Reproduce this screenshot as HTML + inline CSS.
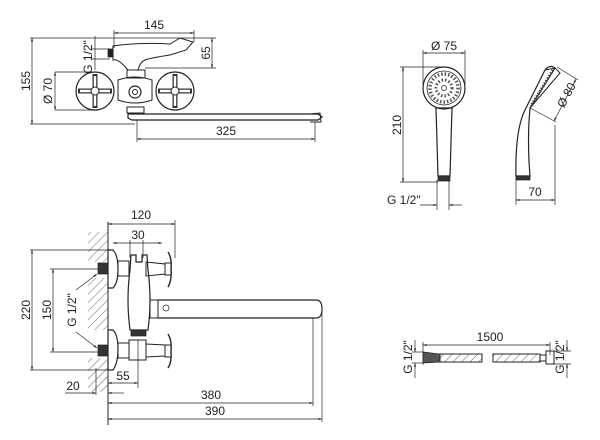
<!DOCTYPE html>
<html><head><meta charset="utf-8"><style>
html,body{margin:0;padding:0;background:#fff}
svg{display:block}
text{font-family:"Liberation Sans",sans-serif;font-size:12px;fill:#222}
</style></head><body>
<svg width="600" height="440" viewBox="0 0 600 440" xmlns="http://www.w3.org/2000/svg">
<defs>
<marker id="a" viewBox="0 0 10 10" refX="10" refY="5" markerWidth="7" markerHeight="5" orient="auto-start-reverse"><path d="M0,2 L10,5 L0,8 z" fill="#222"/></marker>
<pattern id="h" width="6" height="6" patternUnits="userSpaceOnUse" patternTransform="rotate(45)"><line x1="0" y1="0" x2="0" y2="6" stroke="#444" stroke-width="0.8"/></pattern>
</defs>
<g stroke="#222" stroke-width="0.7" fill="none">
<!-- TOP LEFT -->
<line x1="114" y1="33" x2="194" y2="33" marker-start="url(#a)" marker-end="url(#a)"/>
<line x1="114" y1="30" x2="114" y2="48"/><line x1="194" y1="30" x2="194" y2="42"/>
<line x1="30" y1="38" x2="216" y2="38"/>
<line x1="145" y1="68" x2="216" y2="68"/>
<line x1="212" y1="38" x2="212" y2="68" marker-start="url(#a)" marker-end="url(#a)"/>
<line x1="32" y1="38" x2="32" y2="124" marker-start="url(#a)" marker-end="url(#a)"/>
<line x1="30" y1="124" x2="135" y2="124"/>
<line x1="95" y1="36" x2="95" y2="70"/>
<line x1="92" y1="49" x2="110" y2="49"/><line x1="92" y1="59" x2="110" y2="59"/>
<line x1="55" y1="72" x2="55" y2="110" marker-start="url(#a)" marker-end="url(#a)"/>
<line x1="55" y1="72" x2="92" y2="72"/><line x1="55" y1="110" x2="92" y2="110"/>
<line x1="137" y1="120" x2="137" y2="142"/><line x1="315" y1="122" x2="315" y2="142"/>
<line x1="137" y1="139" x2="315" y2="139" marker-start="url(#a)" marker-end="url(#a)"/>
<path d="M113,46 Q140,42 170,44 L180,38 L193,42 L186,50 L170,55 Q150,58 145,60 Q140,62 138,70 L128,70 Q118,58 113,60 Z" stroke-width="1"/>
<rect x="108" y="49" width="5" height="8" fill="#222"/>
<path d="M127,70 L145,70 L145,78 L127,78 Z" stroke-width="1"/>
<path d="M118,80 Q135,74 152,80 L152,100 Q135,106 118,100 Z" stroke-width="1"/>
<circle cx="95" cy="91" r="19" stroke-width="1.2"/>
<circle cx="175" cy="91" r="19" stroke-width="1.2"/>
<path d="M95,91 L95,74 M95,91 L95,108 M95,91 L78,91 M95,91 L112,91" stroke-width="5" stroke="#333"/>
<path d="M95,91 L95,76 M95,91 L95,106 M95,91 L80,91 M95,91 L110,91" stroke-width="2.4" stroke="#fff"/>
<path d="M175,91 L175,74 M175,91 L175,108 M175,91 L158,91 M175,91 L192,91" stroke-width="5" stroke="#333"/>
<path d="M175,91 L175,76 M175,91 L175,106 M175,91 L160,91 M175,91 L190,91" stroke-width="2.4" stroke="#fff"/>
<circle cx="95" cy="91" r="4" fill="#fff" stroke-width="1"/>
<circle cx="175" cy="91" r="4" fill="#fff" stroke-width="1"/>
<circle cx="135" cy="92" r="6" stroke-width="1.2"/>
<circle cx="135" cy="92" r="2.5" stroke-width="1"/>
<rect x="127" y="107" width="17" height="6" stroke-width="1"/>
<path d="M128,114 L318,114 L322,117 L318,120 L132,120 L128,118 Z" stroke-width="1.2"/>
<path d="M310,114 L320,113 L321,122 L310,122" stroke-width="1"/>
<!-- TOP RIGHT -->
<line x1="423" y1="53" x2="465" y2="53" marker-start="url(#a)" marker-end="url(#a)"/>
<line x1="423" y1="50" x2="423" y2="85"/><line x1="465" y1="50" x2="465" y2="85"/>
<line x1="400" y1="67" x2="442" y2="67"/><line x1="400" y1="182" x2="438" y2="182"/>
<line x1="403" y1="67" x2="403" y2="182" marker-start="url(#a)" marker-end="url(#a)"/>
<circle cx="444" cy="88" r="21" stroke-width="1.2"/>
<circle cx="444" cy="88" r="17" stroke-width="0.8"/>
<circle cx="444" cy="88" r="14" stroke="#555" stroke-width="3.5" stroke-dasharray="1.5 2"/>
<circle cx="444" cy="88" r="8" stroke="#555" stroke-width="3" stroke-dasharray="1.5 2"/>
<circle cx="444" cy="88" r="2.5"/>
<path d="M436,108 L452,108 L450,176 L438,176 Z" stroke-width="1.2"/>
<rect x="438" y="176" width="12" height="5" fill="#333"/>
<line x1="437" y1="180" x2="437" y2="210"/><line x1="449" y1="180" x2="449" y2="210"/>
<line x1="420" y1="205" x2="437" y2="205" marker-end="url(#a)"/>
<line x1="462" y1="205" x2="449" y2="205" marker-end="url(#a)"/>
<path d="M516,176 Q515,130 525,110 L545,70 Q550,64 555,68 L530,108 Q527,140 530,176 Z" stroke-width="1.2"/>
<path d="M545,70 L555,68 L560,73 L530,108" stroke-width="1"/>
<path d="M553,70 L531,106" stroke="#444" stroke-width="3" stroke-dasharray="1.5 1.5"/>
<rect x="516" y="176" width="14" height="4" fill="#333"/>
<line x1="557" y1="67" x2="578" y2="80"/><line x1="530" y1="108" x2="556" y2="122"/>
<line x1="576" y1="79" x2="554" y2="121" marker-start="url(#a)" marker-end="url(#a)"/>
<line x1="516" y1="180" x2="516" y2="205"/><line x1="555" y1="125" x2="555" y2="205"/>
<line x1="516" y1="200" x2="555" y2="200" marker-start="url(#a)" marker-end="url(#a)"/>
<!-- BOTTOM LEFT -->
<rect x="88" y="232" width="20" height="30" fill="url(#h)" stroke="none"/>
<rect x="88" y="278" width="20" height="52" fill="url(#h)" stroke="none"/>
<rect x="88" y="358" width="20" height="34" fill="url(#h)" stroke="none"/>
<line x1="108" y1="222" x2="108" y2="425" stroke-width="1"/>
<line x1="108" y1="224" x2="175" y2="224" marker-start="url(#a)" marker-end="url(#a)"/>
<line x1="175" y1="220" x2="175" y2="258"/>
<line x1="113" y1="243" x2="162" y2="243" marker-start="url(#a)" marker-end="url(#a)"/>
<line x1="130" y1="240" x2="130" y2="258"/><line x1="143" y1="240" x2="143" y2="258"/>
<path d="M108,250 L113,250 Q118,255 118,269 Q118,283 113,288 L108,288 Z" stroke-width="1.2"/>
<path d="M108,330 L113,330 Q118,335 118,349 Q118,363 113,370 L108,370 Z" stroke-width="1.2"/>
<rect x="98" y="263" width="10" height="11" fill="#333"/>
<rect x="98" y="345" width="10" height="11" fill="#333"/>
<rect x="118" y="261" width="11" height="15" stroke-width="1"/>
<rect x="118" y="343" width="11" height="15" stroke-width="1"/>
<path d="M131,255 L136,255 L136,262 L142,262 L142,255 L147,255 L148,270 Q152,300 148,330 L130,330 Q126,300 130,270 Z" stroke-width="1.2"/>
<rect x="131" y="330" width="15" height="6" fill="#333"/>
<path d="M129,340 L146,340 L146,360 L129,360 Z" stroke-width="1"/>
<path d="M146,262 L165,264 L165,274 L146,276 Z" stroke-width="1"/>
<path d="M146,344 L165,345 L165,356 L146,357 Z" stroke-width="1"/>
<rect x="165" y="263" width="6" height="12" stroke-width="1"/>
<rect x="165" y="345" width="6" height="12" stroke-width="1"/>
<path d="M168,252 Q172,258 171,269 Q172,280 168,287" stroke-width="1.4"/>
<path d="M168,334 Q172,340 171,351 Q172,362 168,368" stroke-width="1.4"/>
<rect x="150" y="300" width="8" height="18" stroke-width="1"/>
<path d="M158,300 L316,300 Q322,300 322,309 Q322,318 316,318 L158,318" stroke-width="1.2"/>
<circle cx="166" cy="308" r="3"/>
<line x1="30" y1="250" x2="108" y2="250"/><line x1="30" y1="370" x2="108" y2="370"/>
<line x1="32" y1="250" x2="32" y2="370" marker-start="url(#a)" marker-end="url(#a)"/>
<line x1="50" y1="269" x2="98" y2="269"/><line x1="50" y1="352" x2="98" y2="352"/>
<line x1="53" y1="269" x2="53" y2="352" marker-start="url(#a)" marker-end="url(#a)"/>
<path d="M76,290 L97,274" marker-end="url(#a)"/>
<path d="M76,332 L97,348" marker-end="url(#a)"/>
<line x1="138" y1="340" x2="138" y2="388"/>
<line x1="108" y1="383" x2="138" y2="383" marker-start="url(#a)" marker-end="url(#a)"/>
<line x1="96" y1="368" x2="96" y2="395"/>
<line x1="65" y1="393" x2="96" y2="393" marker-end="url(#a)"/>
<line x1="124" y1="393" x2="108" y2="393" marker-end="url(#a)"/>
<line x1="313" y1="318" x2="313" y2="406"/>
<line x1="322" y1="310" x2="322" y2="422"/>
<line x1="108" y1="403" x2="313" y2="403" marker-start="url(#a)" marker-end="url(#a)"/>
<line x1="108" y1="419" x2="322" y2="419" marker-start="url(#a)" marker-end="url(#a)"/>
<!-- BOTTOM RIGHT -->
<line x1="423" y1="345" x2="550" y2="345" marker-start="url(#a)" marker-end="url(#a)"/>
<line x1="423" y1="342" x2="423" y2="365"/><line x1="550" y1="342" x2="550" y2="355"/>
<line x1="415" y1="340" x2="415" y2="352" marker-end="url(#a)"/>
<line x1="415" y1="378" x2="415" y2="363" marker-end="url(#a)"/>
<line x1="412" y1="352" x2="423" y2="352"/><line x1="412" y1="363" x2="423" y2="363"/>
<path d="M423,352 L440,354 L440,362 L423,363 Z" fill="#555"/>
<rect x="440" y="354" width="42" height="8" fill="url(#h)" stroke-width="1"/>
<rect x="493" y="354" width="47" height="8" fill="url(#h)" stroke-width="1"/>
<rect x="540" y="355" width="6" height="6" stroke-width="1"/>
<rect x="546" y="351" width="8" height="13" stroke-width="1"/>
<line x1="554" y1="351" x2="571" y2="351"/><line x1="554" y1="364" x2="571" y2="364"/>
<line x1="567" y1="340" x2="567" y2="351" marker-end="url(#a)"/>
<line x1="567" y1="378" x2="567" y2="364" marker-end="url(#a)"/>
</g>
<text x="154" y="29" text-anchor="middle">145</text>
<text transform="translate(210,53) rotate(-90)" text-anchor="middle">65</text>
<text transform="translate(30,81) rotate(-90)" text-anchor="middle">155</text>
<text transform="translate(92,57) rotate(-90)" text-anchor="middle">G 1/2"</text>
<text transform="translate(52,91) rotate(-90)" text-anchor="middle">Ø 70</text>
<text x="226" y="135" text-anchor="middle">325</text>
<text x="444" y="50" text-anchor="middle">Ø 75</text>
<text transform="translate(401,125) rotate(-90)" text-anchor="middle">210</text>
<text x="387" y="204">G 1/2"</text>
<text transform="translate(570,97) rotate(-62)" text-anchor="middle">Ø 80</text>
<text x="535" y="196" text-anchor="middle">70</text>
<text x="141" y="219" text-anchor="middle">120</text>
<text x="138" y="239" text-anchor="middle">30</text>
<text transform="translate(30,310) rotate(-90)" text-anchor="middle">220</text>
<text transform="translate(51,310) rotate(-90)" text-anchor="middle">150</text>
<text transform="translate(76,310) rotate(-90)" text-anchor="middle">G 1/2"</text>
<text x="123" y="380" text-anchor="middle">55</text>
<text x="73" y="390" text-anchor="middle">20</text>
<text x="211" y="399" text-anchor="middle">380</text>
<text x="215" y="415" text-anchor="middle">390</text>
<text x="490" y="341" text-anchor="middle">1500</text>
<text transform="translate(412,357) rotate(-90)" text-anchor="middle">G 1/2"</text>
<text transform="translate(564,357) rotate(-90)" text-anchor="middle">G 1/2"</text>
</svg>
</body></html>
